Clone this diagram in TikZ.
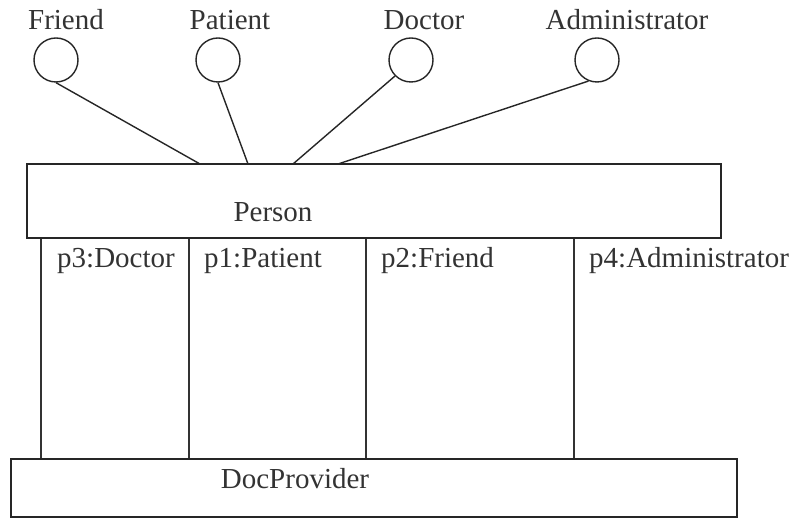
\documentclass[tikz,border=0pt]{standalone}
\usepackage{fontspec}
\setmainfont{Liberation Serif}
\begin{document}
\begin{tikzpicture}[x=1pt, y=-1pt,
  box/.style={draw=black!85, line width=1.6pt, inner sep=0pt},
  role/.style={draw=black!85, circle, line width=1.4pt, minimum size=44pt, inner sep=0pt},
  txt/.style={font=\fontsize{29}{34}\selectfont, text=black!80, inner sep=0pt},
  link/.style={draw=black!85, line width=1.4pt},
  part/.style={draw=black!80, line width=1.6pt}]
\useasboundingbox (0,0) rectangle (793,518);

% classifier boxes
\node[box, minimum width=694pt, minimum height=74pt] (person) at (374,201) {};
\node[txt, anchor=base] (personlbl) at (273,222) {Person};
\node[box, minimum width=726pt, minimum height=58pt] (doc) at (374,488) {};
\node[txt, anchor=base] (doclbl) at (295,489) {DocProvider};

% interfaces (lollipops) with their names
\node[role] (friend) at (56,60) {};
\node[role] (patient) at (218,60) {};
\node[role] (doctor) at (411,60) {};
\node[role] (admin) at (597,60) {};
\node[txt, anchor=base] (friendlbl) at (66,30) {Friend};
\node[txt, anchor=base] (patientlbl) at (230,30) {Patient};
\node[txt, anchor=base] (doctorlbl) at (424,30) {Doctor};
\node[txt, anchor=base] (adminlbl) at (627,30) {Administrator};

% attachment points on top of Person
\coordinate (tf) at (200,164);
\coordinate (tp) at (248,164);
\coordinate (td) at (293,164);
\coordinate (ta) at (338,164);
\draw[link] (friend.south) -- (tf);
\draw[link] (patient.south) -- (tp);
\draw[link] (doctor.225) -- (td);
\draw[link] (admin.248) -- (ta);

% parts between Person and DocProvider
\coordinate (c1) at (41,0);
\coordinate (c2) at (189,0);
\coordinate (c3) at (366,0);
\coordinate (c4) at (574,0);
\draw[part] (c1 |- person.south) -- (c1 |- doc.north);
\draw[part] (c2 |- person.south) -- (c2 |- doc.north);
\draw[part] (c3 |- person.south) -- (c3 |- doc.north);
\draw[part] (c4 |- person.south) -- (c4 |- doc.north);
\node[txt, anchor=base west] (p3) at (57,268) {p3:Doctor};
\node[txt, anchor=base west] (p1) at (204,268) {p1:Patient};
\node[txt, anchor=base west] (p2) at (381,268) {p2:Friend};
\node[txt, anchor=base west] (p4) at (589,268) {p4:Administrator};
\end{tikzpicture}
\end{document}
